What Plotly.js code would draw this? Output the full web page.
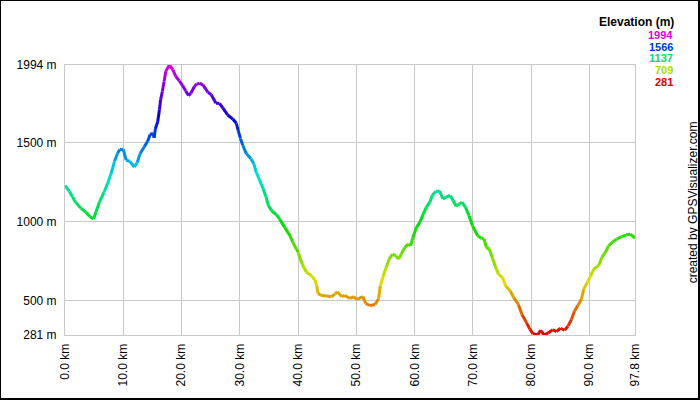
<!DOCTYPE html>
<html>
<head>
<meta charset="utf-8">
<script src="https://cdn.plot.ly/plotly-3.0.1.min.js"></script>
<style>
  html, body { margin: 0; padding: 0; background: #fff; }
  #wrap { position: relative; width: 700px; height: 400px; }
  #chart { width: 700px; height: 400px; }
  #frame { position: absolute; left: 0; top: 0; width: 700px; height: 400px; box-sizing: border-box;
           border-left: 1px solid #000; border-top: 1px solid #000; border-right: 2px solid #000; border-bottom: 2px solid #000;
           pointer-events: none; }
</style>
</head>
<body>
<div id="wrap"><div id="chart"></div><div id="frame"></div></div>
<script>
// Distance along track (km)
const distanceKm = [0, 0.75, 1.3, 1.8, 2.7, 3.6, 4.2, 4.9, 5.3, 5.9,
  6.7, 7.3, 7.9, 8.5, 9.0, 9.4, 10.0, 10.5, 11.1, 11.9,
  12.4, 12.9, 13.6, 14.2, 14.6, 15.1, 15.3, 15.5, 15.9, 16.2,
  16.4, 16.7, 17.0, 17.3, 17.9, 18.5, 19.0, 19.6, 20.2, 20.7,
  21.2, 21.6, 22.2, 22.6, 23.1, 23.7, 24.5, 25.1, 25.9, 26.5,
  27.1, 27.9, 28.8, 29.4, 29.7, 30.1, 30.5, 31.1, 31.9, 32.4,
  32.8, 33.4, 34.0, 34.5, 34.9, 35.4, 36.3, 36.8, 37.7, 38.6,
  39.1, 40.0, 40.7, 41.4, 42.3, 42.9, 43.2, 43.4, 44.0, 44.9,
  45.7, 46.3, 46.7, 47.5, 48.0, 48.9, 49.5, 50.1, 51.1, 51.6,
  52.3, 53.2, 53.8, 54.1, 54.6, 55.1, 55.6, 56.2, 56.8, 57.2,
  57.7, 58.3, 58.9, 59.3, 59.7, 60.3, 60.9, 61.4, 62.0, 62.6,
  63.0, 63.6, 64.3, 64.8, 65.4, 66.1, 66.6, 67.1, 67.7, 68.1,
  68.7, 69.3, 69.9, 70.8, 71.5, 71.9, 72.3, 72.8, 73.3, 73.9,
  74.4, 75.1, 75.6, 76.4, 77.0, 77.8, 78.4, 79.2, 79.8, 80.3,
  81.1, 81.6, 82.2, 82.9, 83.7, 84.3, 85.0, 85.7, 86.3, 86.9,
  87.4, 88.0, 88.6, 89.0, 89.6, 90.2, 90.7, 91.6, 92.1, 92.7,
  93.3, 94.0, 94.7, 95.5, 96.3, 97.0, 97.8];

// Elevation (m)
const elevationM = [1230, 1192, 1156, 1124, 1086, 1060, 1034, 1017, 1060, 1124,
  1188, 1241, 1305, 1383, 1432, 1458, 1458, 1390, 1383, 1347,
  1375, 1432, 1475, 1511, 1553, 1560, 1532, 1588, 1634, 1709,
  1773, 1826, 1890, 1954, 1994, 1964, 1922, 1894, 1862, 1830,
  1800, 1815, 1858, 1873, 1879, 1866, 1822, 1805, 1751, 1751,
  1720, 1677, 1651, 1624, 1581, 1528, 1485, 1432, 1400, 1368,
  1315, 1262, 1209, 1156, 1102, 1071, 1043, 1017, 964, 911,
  868, 805, 730, 681, 656, 630, 592, 545, 532, 528,
  524, 539, 556, 524, 532, 513, 524, 507, 524, 481,
  468, 475, 511, 592, 656, 709, 762, 794, 783, 762,
  794, 837, 858, 847, 900, 964, 996, 1043, 1092, 1124,
  1166, 1192, 1194, 1145, 1156, 1166, 1134, 1098, 1113, 1124,
  1092, 1039, 975, 911, 894, 890, 837, 826, 773, 710,
  666, 645, 592, 560, 517, 475, 411, 358, 315, 290,
  281, 311, 281, 294, 315, 302, 324, 311, 337, 379,
  432, 468, 507, 571, 613, 656, 698, 724, 773, 805,
  847, 873, 890, 905, 915, 921, 895];

const xTickVals = [0, 10, 20, 30, 40, 50, 60, 70, 80, 90, 97.8];
const xTickText = ["0.0 km", "10.0 km", "20.0 km", "30.0 km", "40.0 km", "50.0 km", "60.0 km", "70.0 km", "80.0 km", "90.0 km", "97.8 km"];
const yTickVals = [281, 500, 1000, 1500, 1994];
const yTickText = ["281 m", "500 m", "1000 m", "1500 m", "1994 m"];
const legendTitle = "Elevation (m)";
const legendValues = [1994, 1566, 1137, 709, 281];
const creditText = "created by GPSVisualizer.com";

const eMin = 281, eMax = 1994;
function elevColor(e) {
  const h = 300 * Math.max(0, Math.min(1, (e - eMin) / (eMax - eMin)));
  const v = 0.87;
  const c = v, hp = h / 60, xx = c * (1 - Math.abs(hp % 2 - 1));
  let r = 0, g = 0, b = 0;
  if (hp < 1) { r = c; g = xx; }
  else if (hp < 2) { r = xx; g = c; }
  else if (hp < 3) { g = c; b = xx; }
  else if (hp < 4) { g = xx; b = c; }
  else if (hp < 5) { r = xx; b = c; }
  else { r = c; b = xx; }
  return `rgb(${Math.round(r*255)},${Math.round(g*255)},${Math.round(b*255)})`;
}

const traces = [];
for (let i = 0; i < distanceKm.length - 1; i++) {
  traces.push({
    type: 'scatter', mode: 'lines',
    x: [distanceKm[i], distanceKm[i+1]],
    y: [elevationM[i], elevationM[i+1]],
    line: { color: elevColor((elevationM[i] + elevationM[i+1]) / 2), width: 3 },
    cliponaxis: false, showlegend: false, hoverinfo: 'skip'
  });
}

const font = "Liberation Sans, Arial, sans-serif";
const annotations = [];
annotations.push({ xref: 'paper', yref: 'paper', x: 1.0715, y: 1.160, xanchor: 'right', yanchor: 'middle',
  text: '<b>' + legendTitle + '</b>', showarrow: false, font: { family: font, size: 12, color: '#000' } });
const legendY = [1.1122, 1.0678, 1.0248, 0.9815, 0.9381];
legendValues.forEach((v, i) => {
  annotations.push({ xref: 'paper', yref: 'paper', x: 1.0695, y: legendY[i], xanchor: 'right', yanchor: 'middle',
    text: '<b>' + v + '</b>', showarrow: false, font: { family: font, size: 11, color: elevColor(v) } });
});
annotations.push({ xref: 'paper', yref: 'paper', x: 1.1023, y: 0.4926, xanchor: 'center', yanchor: 'middle',
  text: creditText, textangle: -90, showarrow: false, font: { family: font, size: 12, color: '#000' } });

const layout = {
  width: 700, height: 400,
  margin: { l: 65, r: 65, t: 65, b: 65 },
  paper_bgcolor: '#fff', plot_bgcolor: '#fff',
  font: { family: font, size: 12, color: '#000' },
  xaxis: {
    range: [0, 97.8], tickmode: 'array', tickvals: xTickVals, ticktext: xTickText,
    tickangle: -90, ticks: '', showgrid: true, gridcolor: '#c8c8c8', gridwidth: 1,
    showline: true, linecolor: '#c8c8c8', linewidth: 1, mirror: true, zeroline: false,
    tickfont: { family: font, size: 12, color: '#000' }, ticklabelstandoff: 3
  },
  yaxis: {
    range: [281, 1994], tickmode: 'array', tickvals: yTickVals, ticktext: yTickText,
    ticks: '', showgrid: true, gridcolor: '#c8c8c8', gridwidth: 1,
    showline: true, linecolor: '#c8c8c8', linewidth: 1, mirror: true, zeroline: false,
    tickfont: { family: font, size: 12, color: '#000' }, ticklabelstandoff: 5
  },
  annotations: annotations
};

Plotly.newPlot('chart', traces, layout, { staticPlot: true, displayModeBar: false });
</script>
</body>
</html>
